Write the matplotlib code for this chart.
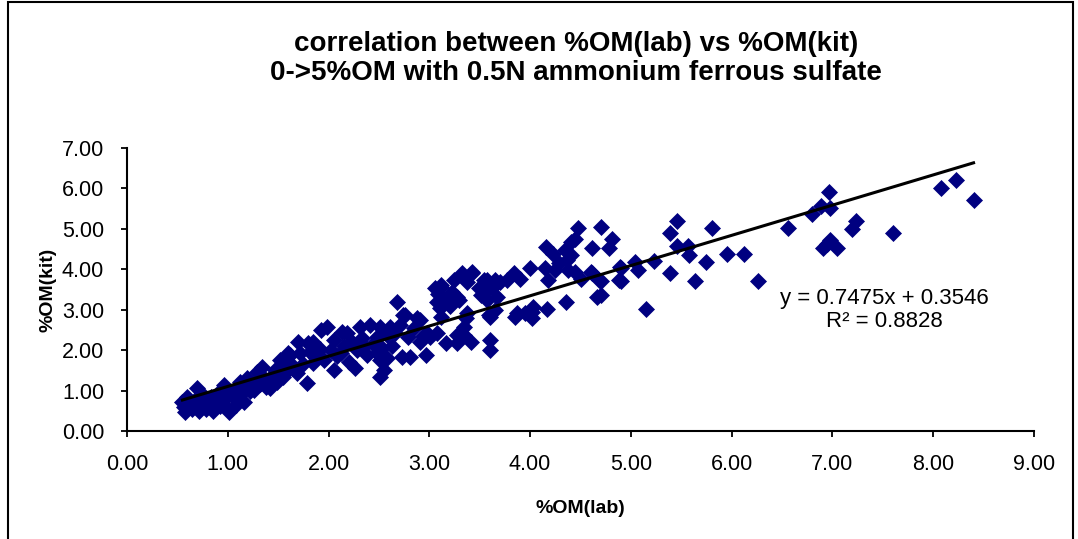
"""Scatter of %OM(lab) vs %OM(kit) with a linear trendline."""

import matplotlib
matplotlib.use("Agg")
import matplotlib.pyplot as plt
import numpy as np
from matplotlib.patches import Rectangle

plt.rcParams["font.family"] = ["Liberation Sans", "DejaVu Sans"]

# ---------------------------------------------------------------------------
# Data
# ---------------------------------------------------------------------------
om_lab = [
    0.55, 0.57, 0.58, 0.60, 0.62, 0.65, 0.68, 0.69, 0.71, 0.73, 0.75, 0.76,
    0.78, 0.80, 0.83, 0.85, 0.87, 0.90, 0.92, 0.93, 0.96, 0.97, 1.00, 1.01,
    1.03, 1.05, 1.06, 1.08, 1.10, 1.12, 1.14, 1.16, 1.18, 1.19, 1.22, 1.26,
    1.28, 1.29, 1.32, 1.34, 1.36, 1.38, 1.42, 1.44, 1.47, 1.49, 1.52, 1.55,
    1.55, 1.58, 1.60, 1.62, 1.62, 1.64, 1.69, 1.70, 1.72, 1.75, 1.79, 1.80,
    1.82, 1.85, 1.85, 1.88, 1.92, 1.93, 1.95, 1.98, 2.02, 2.05, 2.05, 2.08,
    2.12, 2.13, 2.15, 2.18, 2.20, 2.23, 2.26, 2.28, 2.31, 2.33, 2.35, 2.38,
    2.41, 2.44, 2.48, 2.48, 2.51, 2.51, 2.51, 2.53, 2.55, 2.58, 2.58, 2.61,
    2.63, 2.66, 2.68, 2.71, 2.73, 2.74, 2.76, 2.79, 2.81, 2.85, 2.88, 2.91,
    2.91, 2.94, 2.97, 2.98, 3.01, 3.06, 3.08, 3.08, 3.09, 3.11, 3.11, 3.12,
    3.12, 3.12, 3.14, 3.17, 3.21, 3.22, 3.24, 3.27, 3.27, 3.27, 3.29, 3.31,
    3.32, 3.34, 3.34, 3.36, 3.37, 3.37, 3.41, 3.42, 3.42, 3.49, 3.51, 3.54,
    3.55, 3.57, 3.57, 3.59, 3.60, 3.60, 3.60, 3.62, 3.65, 3.65, 3.67, 3.70,
    3.77, 3.84, 3.85, 3.87, 3.90, 3.95, 4.00, 4.02, 4.02, 4.03, 4.15, 4.16,
    4.17, 4.18, 4.23, 4.25, 4.29, 4.35, 4.36, 4.37, 4.38, 4.41, 4.41, 4.45,
    4.45, 4.48, 4.50, 4.60, 4.61, 4.61, 4.66, 4.68, 4.70, 4.70, 4.70, 4.78,
    4.81, 4.88, 4.89, 4.90, 4.90, 5.04, 5.07, 5.15, 5.23, 5.39, 5.39, 5.46,
    5.46, 5.57, 5.58, 5.64, 5.75, 5.80, 5.95, 6.12, 6.26, 6.56, 6.80, 6.89,
    6.97, 6.98, 6.91, 6.95, 6.98, 7.05, 7.19, 7.23, 7.60, 8.08, 8.23, 8.40,
]
om_kit = [
    0.72, 0.60, 0.48, 0.85, 0.66, 0.55, 0.78, 1.06, 0.50, 0.62, 0.90, 0.72,
    0.55, 0.68, 0.85, 0.50, 0.75, 0.95, 0.62, 0.72, 1.14, 0.82, 0.55, 0.48,
    0.90, 1.00, 0.85, 0.65, 1.05, 1.22, 0.95, 0.72, 1.10, 1.30, 0.98, 1.01,
    1.20, 1.47, 1.15, 1.59, 1.30, 1.10, 1.06, 1.35, 1.50, 1.22, 1.76, 1.34,
    1.71, 1.45, 1.92, 1.67, 1.88, 1.55, 1.43, 2.21, 1.92, 1.65, 1.18, 2.17,
    1.96, 2.21, 1.67, 1.80, 2.04, 2.50, 1.75, 2.58, 2.00, 2.25, 1.51, 1.85,
    1.92, 2.45, 2.10, 2.42, 1.70, 2.21, 1.55, 2.00, 2.58, 2.29, 2.10, 1.88,
    2.62, 2.15, 2.33, 1.92, 2.58, 1.76, 1.34, 2.05, 1.51, 2.37, 1.80, 2.58,
    2.10, 2.42, 3.20, 2.62, 1.84, 2.87, 2.87, 2.33, 1.84, 2.55, 2.79, 2.21,
    2.74, 2.35, 1.88, 2.42, 2.33, 3.53, 2.42, 3.20, 3.40, 3.03, 3.16, 3.57,
    3.61, 2.83, 3.28, 2.17, 3.09, 3.44, 3.73, 2.17, 2.37, 3.32, 3.24, 3.86,
    3.90, 2.58, 2.37, 2.79, 3.69, 2.91, 2.21, 3.90, 3.94, 3.53, 3.36, 3.73,
    3.44, 3.73, 3.24, 2.87, 2.83, 2.25, 2.00, 3.53, 3.73, 2.99, 3.32, 3.69,
    3.73, 3.90, 2.83, 2.91, 3.77, 2.91, 4.02, 2.95, 2.79, 3.07, 4.02, 4.56,
    3.01, 3.73, 4.39, 3.98, 4.15, 4.47, 3.20, 4.23, 3.98, 4.35, 4.68, 4.75,
    3.94, 5.03, 3.77, 3.94, 4.53, 3.90, 3.32, 3.73, 5.04, 3.71, 3.36, 4.53,
    4.74, 3.73, 4.06, 4.04, 3.71, 4.19, 3.98, 3.02, 4.20, 4.89, 3.90, 5.19,
    4.58, 4.58, 4.35, 3.71, 4.19, 5.03, 4.38, 4.37, 3.71, 5.01, 5.36, 5.57,
    5.90, 5.52, 4.52, 4.62, 4.72, 4.52, 4.99, 5.20, 4.89, 6.02, 6.21, 5.71,
]

# Trendline as printed on the chart
slope = 0.7475
intercept = 0.3546
r_squared = 0.8828

x_ticks = [0, 1, 2, 3, 4, 5, 6, 7, 8, 9]
y_ticks = [0, 1, 2, 3, 4, 5, 6, 7]

title = ("correlation between %OM(lab) vs %OM(kit)\n"
         "0->5%OM with 0.5N ammonium ferrous sulfate")

NAVY = "#000080"

fig = plt.figure(figsize=(10.78, 5.39), dpi=100)
ax = fig.add_axes([0.1178, 0.2004, 0.8414, 0.5250])

ax.plot(om_lab, om_kit, linestyle="none", marker="D", markersize=7.8,
        color=NAVY, markeredgecolor=NAVY, markeredgewidth=0.5, zorder=2)

xs = np.array([min(om_lab), max(om_lab)])
ax.plot(xs, slope * xs + intercept, color="black", linewidth=2.2, zorder=3)

ax.text(7.52, 2.99,
        f"y = {slope:.4f}x + {intercept:.4f}\nR\u00b2 = {r_squared:.4f}",
        ha="center", va="center", multialignment="center",
        fontsize=16, linespacing=1.1)

ax.set_xlim(0, 9)
ax.set_ylim(0, 7)
ax.set_xticks(x_ticks)
ax.set_yticks(y_ticks)
ax.set_xticklabels([f"{v:.2f}" for v in x_ticks])
ax.set_yticklabels([f"{v:.2f}" for v in y_ticks])
ax.tick_params(direction="out", length=4.5, width=1.3, labelsize=15.5)
ax.tick_params(axis="x", pad=12)
ax.tick_params(axis="y", pad=12)

for side in ("top", "right"):
    ax.spines[side].set_visible(False)
for side in ("left", "bottom"):
    ax.spines[side].set_linewidth(1.5)

ax.set_xlabel("%OM(lab)", fontsize=14, fontweight="bold", labelpad=18)
ax.set_ylabel("%OM(kit)", fontsize=14, fontweight="bold", labelpad=4)

fig.text(0.534, 0.8915, title, ha="center", va="center",
         fontsize=20, fontweight="bold", linespacing=1.12)

# chart-area border (bottom edge sits off the image)
fig.add_artist(Rectangle((0.0074, -0.02), 0.9880, 1.0163,
                         transform=fig.transFigure, fill=False,
                         edgecolor="black", linewidth=1.5))

fig.savefig("out.png", dpi=100)
